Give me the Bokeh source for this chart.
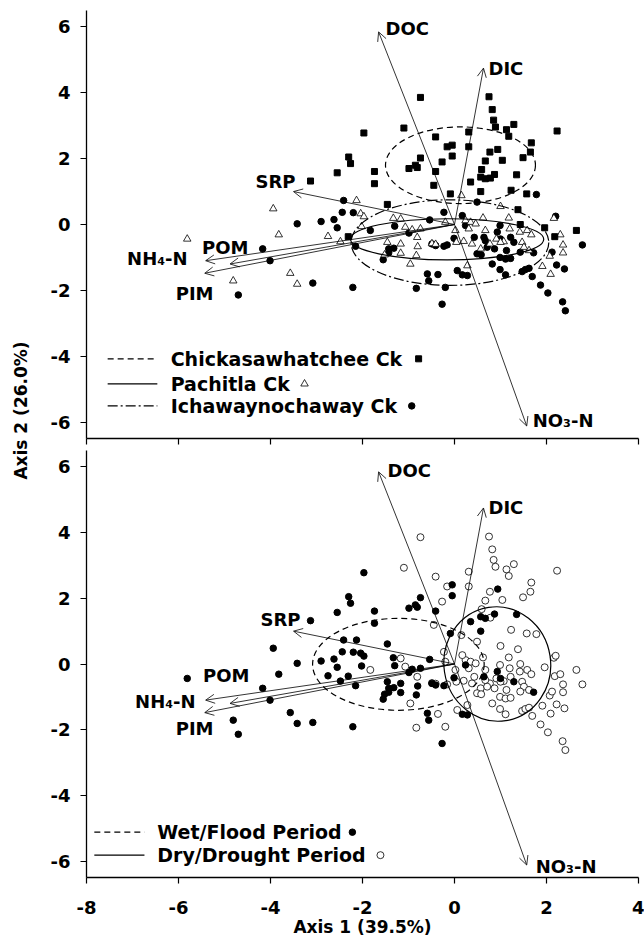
import math
from bokeh.plotting import figure
from bokeh.models import Arrow, OpenHead, FixedTicker, Range1d, Label
from bokeh.layouts import column, row
from bokeh.embed import file_html
from bokeh.resources import INLINE
from bokeh.core.properties import value

W, D = "W", "D"

# ---- Chickasawhatchee Ck (squares) ----
chick_x = [-0.74, -1.97, -1.10, -0.41, -2.30, -2.26, -2.55, -3.13, -1.74, -1.74, -1.46, -0.16, -0.05, -0.05,
           -0.74, -0.27, -0.99, -0.85, -0.81, -0.41, -0.45, -0.09, 0.31, 0.31, 0.35, 0.75, 0.82, 0.85, 0.89,
           1.13, 1.29, 1.18, 2.23, 1.67, 1.65, 1.49, 0.94, 0.77, 0.67, 1.04, 0.59, 0.57, 0.67, 0.78, 0.87,
           1.35, 0.57, 1.23, 1.57, 1.38, 1.43, 1.96, 2.65, 2.18, -2.31]
chick_y = [3.86, 2.78, 2.93, 2.66, 2.05, 1.85, 1.57, 1.32, 1.61, 1.24, 0.61, 2.36, 2.41, 2.08,
           2.02, 1.90, 1.70, 1.80, 1.73, 1.61, 1.19, 0.93, 2.81, 2.36, 1.29, 3.88, 3.49, 3.17, 2.96,
           2.88, 3.04, 2.68, 2.84, 2.48, 2.20, 2.03, 2.28, 2.20, 1.93, 1.95, 1.67, 1.44, 1.39, 1.41, 1.52,
           1.51, 1.00, 1.04, 0.93, 0.45, 0.00, -0.10, -0.18, -0.37, -0.37]
chick_period = [D, W, D, D, W, W, W, W, W, W, W, D, W, W,
                W, D, W, W, W, W, D, W, D, D, W, D, D, D, D,
                D, D, D, D, D, D, D, W, D, D, D, D, W, W, D, W,
                W, W, D, D, D, D, D, D, D, W]

# ---- Pachitla Ck (triangles) ----
pach_x = [-2.13, 0.15, -2.04, -1.97, -2.02, -2.75, -2.48, -1.33, -1.17, -1.07, -0.92, -0.74, -0.81, -0.20,
          0.02, 0.20, 0.04, -0.80, -0.49, -1.46, -1.17, -1.52, -1.17, -0.83, -0.96, 0.28, 1.00, 0.62, 1.18,
          2.16, 2.30, 2.36, 2.36, 2.07, 1.91, 2.09, 0.67, 0.24, 0.35, 0.46, 0.31, 0.91, 1.20, 1.42, 1.58,
          1.67, 1.07, 1.00, 0.77, 0.38, 0.57, 1.47, 1.51, 1.62, -3.94, -3.82, -5.81, -3.57, -3.42, -4.81, -0.41]
pach_y = [0.73, 0.88, 0.33, 0.24, -0.06, -0.36, -0.52, 0.19, 0.17, -0.08, -0.16, -0.13, -0.39, 0.07,
          -0.18, -0.51, -0.54, -0.67, -0.58, -0.54, -0.59, -0.92, -0.87, -0.94, -1.20, -1.25, 0.55, 0.20, 0.20,
          0.19, -0.31, -0.62, -0.86, -0.96, -1.27, -1.51, -0.18, 0.12, 0.07, 0.02, -0.13, -0.44, -0.13, -0.23, -0.18,
          -0.31, -0.52, -0.54, -0.59, -0.59, -0.74, -0.54, -0.69, -0.79, 0.48, -0.31, -0.44, -1.48, -1.81, -1.71, -0.60]
pach_period = [W, D, W, W, W, W, W, W, D, D, W, W, D, D,
               D, D, D, W, D, W, W, W, W, W, D, D, D, D, D,
               D, D, D, D, D, D, D, D, D, D, D, D, D, D, D, D,
               D, D, D, D, D, D, D, D, D, W, W, W, W, W, W, D]

# ---- Ichawaynochaway Ck (filled circles) ----
ich_x = [-2.41, -2.44, -2.20, -2.90, -2.62, -2.55, -1.83, -2.15, -1.30, -0.99, -0.54, -0.23, 0.17, -0.01,
         -0.49, -0.41, -0.23, -0.16, -1.43, -1.32, -1.43, -1.55, -0.59, -0.56, -0.36, 0.06, 0.17, 0.28,
         -3.08, -2.21, -0.83, -0.20, -0.27, 0.49, 1.78, 2.20, 2.78, 2.12, 2.22, 2.39, 1.69, 1.47, 1.54, 1.62,
         1.87, 2.03, 2.35, 2.41, 0.93, 0.99, 0.43, 0.64, 0.67, 1.22, 1.29, 0.71, 0.87, 1.13, 1.43, 1.72,
         0.49, 0.58, 0.99, 1.11, 1.22, 0.82, 0.99, 1.11, -3.42, -4.17, -4.01, -4.70, 0.24, 1.00]
ich_y = [0.73, 0.37, 0.36, 0.09, 0.15, -0.10, -0.18, -0.66, -0.05, -0.26, 0.14, 0.37, 0.27, -0.42,
         -0.59, -0.64, -0.66, -0.62, -0.74, -0.72, -0.86, -1.07, -1.50, -1.71, -1.52, -1.40, -1.53, -1.55,
         -1.78, -1.91, -1.94, -1.91, -2.42, 0.68, 0.91, 0.25, -0.62, -0.84, -1.23, -1.35, -1.58, -1.43, -1.37, -1.33,
         -1.84, -2.08, -2.35, -2.62, -0.23, -0.03, -0.39, -0.39, -0.49, -0.39, -0.54, -0.69, -0.74, -0.79, -0.84, -0.86,
         -0.89, -0.92, -1.00, -1.05, -1.03, -1.20, -1.37, -1.53, 0.02, -0.74, -1.10, -2.14, -0.03, -0.44]
ich_period = [W, W, W, W, W, W, D, W, W, W, W, D, D, W,
              W, W, W, D, W, W, W, W, W, W, D, D, W, W,
              W, W, D, D, W, D, D, D, D, D, D, D, D, D, D, D,
              D, D, D, D, W, D, D, W, D, D, W, D, D, D, D, W,
              D, D, D, D, D, D, D, D, W, W, W, W, W, W]

# ---- Variable vectors (arrow tips) ----
var_names = ["DOC", "DIC", "NO₃-N", "SRP", "NH₄-N", "POM", "PIM"]
var_x = [-1.65, 0.63, 1.57, -3.50, -5.41, -4.88, -5.43]
var_y = [5.85, 4.75, -6.12, 1.00, -1.10, -1.20, -1.48]

# ---- 95% ellipses ----
site_names = ["Chickasawhatchee Ck", "Pachitla Ck", "Ichawaynochaway Ck"]
site_ell_x = [0.13, -0.16, -0.10]
site_ell_y = [1.80, -0.45, -0.55]
site_ell_w = [3.26, 4.20, 4.30]
site_ell_h = [2.33, 1.25, 2.60]

period_names = ["Wet/Flood Period", "Dry/Drought Period"]
per_ell_x = [-1.22, 0.93]
per_ell_y = [-0.01, 0.00]
per_ell_w = [3.73, 2.32]
per_ell_h = [2.80, 3.49]

x_ticks = [-8, -6, -4, -2, 0, 2, 4]
x_tick_labels = ["-8", "-6", "-4", "-2", "0", "2", "4"]
y_ticks = [-6, -4, -2, 0, 2, 4, 6]
y_tick_labels = ["-6", "-4", "-2", "0", "2", "4", "6"]
x_title = "Axis 1 (39.5%)"
y_title = "Axis 2 (26.0%)"

# ---------------- styling ----------------
FONT = "DejaVu Sans"
FW = 552
site_dash = ["6 4", "solid", "10 3 2 3"]
per_dash = ["6 4", "solid"]
per_angle = [0.0, 0.15]
lab_align = ["left", "left", "left", "right", "right", "left", "left"]
top_xoff = [7, 5, 6, 2, -18, -28, -29]
top_yoff = [-3, 0, -5, -10, -2, -17, 20]
bot_xoff = [9, 5, 9, 7, -10, -27, -29]
bot_yoff = [-1, 0, 1, -12, 1, -28, 16]


def style_ticks(ax, kind="major"):
    setattr(ax, f"{kind}_tick_line_color", "black")
    setattr(ax, f"{kind}_tick_line_width", 1.2)
    setattr(ax, f"{kind}_tick_in", 0)
    setattr(ax, f"{kind}_tick_out", 6)


def base_panel(frame_h, mb_top, mb_bottom, labels):
    p = figure(frame_width=FW, frame_height=frame_h,
               x_range=Range1d(-8, 4), y_range=Range1d(-6.5, 6.5),
               output_backend="svg", toolbar_location=None,
               min_border_left=48, min_border_right=6,
               min_border_top=mb_top, min_border_bottom=mb_bottom)
    p.grid.visible = False
    p.outline_line_color = None
    xa, ya = p.xaxis[0], p.yaxis[0]
    for ax in (xa, ya):
        ax.axis_line_color = "black"
        ax.axis_line_width = 1.3
        ax.major_label_text_font = FONT
        ax.major_label_text_font_style = "bold"
        ax.major_label_text_font_size = "18px"
        ax.major_label_text_color = "black"
    ya.ticker = FixedTicker(ticks=y_ticks)
    ya.major_label_overrides = dict(zip(y_ticks, y_tick_labels))
    style_ticks(ya)
    ya.minor_tick_line_color = None
    ya.major_label_standoff = 10
    if labels:
        xa.ticker = FixedTicker(ticks=x_ticks)
        xa.major_label_overrides = dict(zip(x_ticks, x_tick_labels))
        style_ticks(xa)
        xa.minor_tick_line_color = None
        xa.major_label_standoff = 17
        xa.axis_label = x_title
        xa.axis_label_text_font = FONT
        xa.axis_label_text_font_style = "bold"
        xa.axis_label_text_font_size = "17px"
        xa.axis_label_text_color = "black"
        xa.axis_label_standoff = 0
    else:
        # tick marks only (no labels) on the upper panel
        xa.ticker = FixedTicker(ticks=[], minor_ticks=x_ticks)
        style_ticks(xa, "minor")
        xa.major_tick_line_color = None
    return p


def add_vectors(p, xoff, yoff):
    for i in range(len(var_names)):
        p.add_layout(Arrow(end=OpenHead(size=9, line_width=0.8, line_color="black"),
                           x_start=0, y_start=0, x_end=var_x[i], y_end=var_y[i],
                           line_width=0.8, line_color="black"))
        p.text(x=[var_x[i]], y=[var_y[i]], text=[var_names[i]],
               x_offset=xoff[i], y_offset=yoff[i],
               text_align=lab_align[i], text_baseline="middle",
               text_font=value(FONT), text_font_style="bold", text_font_size="18px",
               text_color="black")


# ================= top panel =================
top = base_panel(428, 10, 12, False)

top.scatter(ich_x, ich_y, marker="circle", size=6.5, fill_color="black", line_color="black")
top.scatter(pach_x, pach_y, marker="triangle", size=7.5, fill_color="white", line_color="black", line_width=0.8)
top.scatter(chick_x, chick_y, marker="square", size=6, fill_color="black", line_color="black")

for i in range(3):
    top.ellipse(x=[site_ell_x[i]], y=[site_ell_y[i]], width=[site_ell_w[i]], height=[site_ell_h[i]],
                fill_color=None, line_color="black", line_width=1.2, line_dash=site_dash[i])
add_vectors(top, top_xoff, top_yoff)

# legend (top)
TL_X0, TL_X1, TL_TX = -7.54, -6.46, -6.17
TL_Y = [-4.08, -4.84, -5.51]
TL_MX = [-0.78, -3.26, -0.93]
for i in range(3):
    top.line([TL_X0, TL_X1], [TL_Y[i], TL_Y[i]], line_color="black", line_width=1.1, line_dash=site_dash[i])
    top.text(x=[TL_TX], y=[TL_Y[i]], text=[site_names[i]], text_align="left", text_baseline="middle",
             text_font=value(FONT), text_font_style="bold", text_font_size="19px", text_color="black")
top.scatter([TL_MX[0]], [TL_Y[0]], marker="square", size=6, fill_color="black", line_color="black")
top.scatter([TL_MX[1]], [TL_Y[1]], marker="triangle", size=7.5, fill_color="white", line_color="black", line_width=0.8)
top.scatter([TL_MX[2]], [TL_Y[2]], marker="circle", size=6.5, fill_color="black", line_color="black")

# ================= bottom panel =================
bot = base_panel(427, 0, 63, True)

all_x = chick_x + pach_x + ich_x
all_y = chick_y + pach_y + ich_y
all_p = chick_period + pach_period + ich_period
dry_x = [x for x, q in zip(all_x, all_p) if q == D]
dry_y = [y for y, q in zip(all_y, all_p) if q == D]
wet_x = [x for x, q in zip(all_x, all_p) if q == W]
wet_y = [y for y, q in zip(all_y, all_p) if q == W]

bot.scatter(dry_x, dry_y, marker="circle", size=7, fill_color="white", line_color="black", line_width=0.8)
bot.scatter(wet_x, wet_y, marker="circle", size=6.5, fill_color="black", line_color="black")

for i in range(2):
    bot.ellipse(x=[per_ell_x[i]], y=[per_ell_y[i]], width=[per_ell_w[i]], height=[per_ell_h[i]],
                angle=per_angle[i], fill_color=None, line_color="black", line_width=1.2, line_dash=per_dash[i])
add_vectors(bot, bot_xoff, bot_yoff)

BL_X0, BL_X1, BL_TX = -7.83, -6.74, -6.46
BL_Y = [-5.12, -5.82]
BL_MX = [-2.22, -1.61]
for i in range(2):
    bot.line([BL_X0, BL_X1], [BL_Y[i], BL_Y[i]], line_color="black", line_width=1.1, line_dash=per_dash[i])
    bot.text(x=[BL_TX], y=[BL_Y[i]], text=[period_names[i]], text_align="left", text_baseline="middle",
             text_font=value(FONT), text_font_style="bold", text_font_size="19px", text_color="black")
bot.scatter([BL_MX[0]], [BL_Y[0]], marker="circle", size=6.5, fill_color="black", line_color="black")
bot.scatter([BL_MX[1]], [BL_Y[1]], marker="circle", size=7, fill_color="white", line_color="black", line_width=0.8)

# ================= y-axis title strip =================
STRIP_W, STRIP_H = 38, 940
ystrip = figure(width=STRIP_W, height=STRIP_H, x_range=Range1d(0, STRIP_W), y_range=Range1d(0, STRIP_H),
                x_axis_type=None, y_axis_type=None, output_backend="svg", toolbar_location=None,
                min_border=0)
ystrip.grid.visible = False
ystrip.outline_line_color = None
ystrip.add_layout(Label(x=20, y=STRIP_H - 410, text=y_title, angle=math.pi / 2, text_align="center",
                        text_baseline="middle", text_font=FONT, text_font_style="bold",
                        text_font_size="17px", text_color="black"))

layout = row(ystrip, column(top, bot))
open("out.html", "w").write(file_html(layout, INLINE))
